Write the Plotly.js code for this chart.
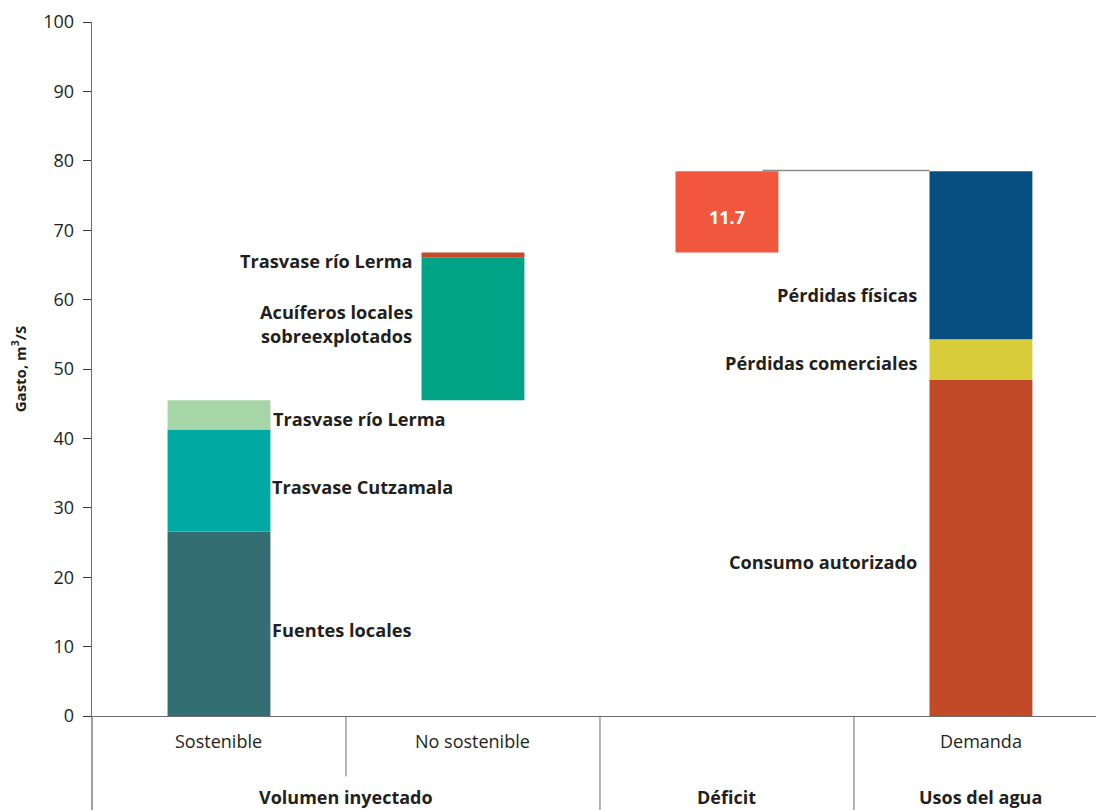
<!DOCTYPE html>
<html>
<head>
<meta charset="utf-8">
<script src="https://cdn.plot.ly/plotly-3.0.1.min.js"></script>
<style>html,body{margin:0;padding:0;background:#fff;}#chart{width:1096px;height:810px;}</style>
</head>
<body>
<div id="chart"></div>
<script>
// ---- data ----
const categories = ['Sostenible', 'No sostenible', '', 'Demanda'];
const groupLabels = ['Volumen inyectado', 'Déficit', 'Usos del agua'];

const sostenibleNames = ['Fuentes locales', 'Trasvase Cutzamala', 'Trasvase río Lerma'];
const sostenibleValues = [26.6, 14.7, 4.2];

const noSostenibleNames = ['Acuíferos locales<br>sobreexplotados', 'Trasvase río Lerma'];
const noSostenibleValues = [20.6, 0.7];

const deficitName = ['Déficit'];
const deficitValues = [11.7];

const demandaNames = ['Consumo autorizado', 'Pérdidas comerciales', 'Pérdidas físicas'];
const demandaValues = [48.4, 5.9, 24.2];

const yTicks = [0, 10, 20, 30, 40, 50, 60, 70, 80, 90, 100];

// ---- styles ----
const sostColors = ['#336e72', '#00aaa3', '#a6d5a7'];
const noSostColors = ['#00a386', '#c44b2a'];
const deficitColors = ['#f0573d'];
const demandaColors = ['#c34a29', '#d9cc3b', '#074f80'];
const barW = 0.405;
const txt = '#231f20';
const FONT = 'Open Sans, sans-serif';
const LBL = 18.2;

const traces = [];
function stack(xIdx, names, values, colors, start) {
  let base = start;
  values.forEach((v, i) => {
    traces.push({
      type: 'bar', x: [xIdx], y: [v], base: [base], width: barW,
      marker: {color: colors[i], line: {width: 0}},
      name: names[i].replace('<br>', ' '), hoverinfo: 'name+y', showlegend: false
    });
    base += v;
  });
  return base;
}
const t0 = stack(0, sostenibleNames, sostenibleValues, sostColors, 0);
const t1 = stack(1, noSostenibleNames, noSostenibleValues, noSostColors, t0);
const t2 = stack(2, deficitName, deficitValues, deficitColors, t1);
const t3 = stack(3, demandaNames, demandaValues, demandaColors, 0);

const lab = (text, x, y, anchor, extra) => Object.assign({
  text: text, x: x, y: y, xref: 'x', yref: 'y', xanchor: anchor, yanchor: 'middle',
  showarrow: false, font: {family: FONT, size: LBL, color: txt, weight: 'bold'}
}, extra || {});

const annotations = [
  lab(sostenibleNames[0], 0 + barW / 2 + 0.0, 12.4, 'left'),
  lab(sostenibleNames[1], 0 + barW / 2 + 0.0, 33.0, 'left'),
  lab(sostenibleNames[2], 0 + barW / 2 + 0.004, 42.8, 'left'),
  lab(noSostenibleNames[1], 1 - barW / 2 - 0.025, 65.6, 'right'),
  lab(noSostenibleNames[0], 1 - barW / 2 - 0.025, 56.5, 'right', {align: 'center'}),
  lab(String(deficitValues[0]), 2, t1 + deficitValues[0] / 2 - 0.7, 'center', {font: {family: FONT, size: 18, color: '#ffffff', weight: 'bold'}}),
  lab(demandaNames[2], 3 - barW / 2 - 0.042, 60.7, 'right'),
  lab(demandaNames[1], 3 - barW / 2 - 0.042, 50.9, 'right'),
  lab(demandaNames[0], 3 - barW / 2 - 0.042, 22.2, 'right')
];

// category labels
categories.forEach((c, i) => {
  if (!c) return;
  annotations.push({text: c, x: i, y: -0.036, xref: 'x', yref: 'paper', xanchor: 'center', yanchor: 'middle',
    showarrow: false, font: {family: FONT, size: 18, color: txt}});
});
const groupX = [0.5, 2, 3];
groupLabels.forEach((g, i) => {
  annotations.push({text: g, x: groupX[i], y: -0.1165, xref: 'x', yref: 'paper', xanchor: 'center', yanchor: 'middle',
    showarrow: false, font: {family: FONT, size: 18, color: txt, weight: 'bold'}});
});

const lineCol = '#6d6d6d';
const shapes = [
  // extension of y axis below zero
  {type: 'line', xref: 'paper', yref: 'paper', x0: 0, x1: 0, y0: 0, y1: -0.14, line: {color: lineCol, width: 1.3}},
  // dividers
  {type: 'line', xref: 'x', yref: 'paper', x0: 0.5, x1: 0.5, y0: 0, y1: -0.087, line: {color: lineCol, width: 1}},
  {type: 'line', xref: 'x', yref: 'paper', x0: 1.5, x1: 1.5, y0: 0, y1: -0.14, line: {color: lineCol, width: 1}},
  {type: 'line', xref: 'x', yref: 'paper', x0: 2.5, x1: 2.5, y0: 0, y1: -0.14, line: {color: lineCol, width: 1}},
  // connector
  {type: 'line', xref: 'x', yref: 'y', x0: 2.14, x1: 3 - barW / 2, y0: t3 + 0.1, y1: t3 + 0.1, line: {color: '#8a8a8a', width: 1.5}, layer: 'below'}
];

const layout = {
  width: 1096, height: 810,
  margin: {l: 92, r: 0, t: 22, b: 94},
  paper_bgcolor: '#ffffff', plot_bgcolor: '#ffffff',
  font: {family: FONT, color: txt},
  barmode: 'overlay',
  showlegend: false,
  xaxis: {
    range: [-0.5, 3.453], showgrid: false, zeroline: false, showticklabels: false, ticks: '',
    showline: true, linecolor: lineCol, linewidth: 1.3, fixedrange: true
  },
  yaxis: {
    range: [0, 100], tickvals: yTicks, showgrid: false, zeroline: false,
    showline: true, linecolor: lineCol, linewidth: 1.3,
    ticks: 'outside', ticklen: 8, tickcolor: '#333', tickwidth: 1,
    ticklabelstandoff: 5,
    tickfont: {family: FONT, size: 18, color: txt},
    title: {text: 'Gasto, m<sup>3</sup>/S', font: {family: FONT, size: 15, color: txt, weight: 'bold'}, standoff: 13},
    fixedrange: true
  },
  annotations: annotations,
  shapes: shapes
};

Plotly.newPlot('chart', traces, layout, {displayModeBar: false, staticPlot: true});
</script>
</body>
</html>
